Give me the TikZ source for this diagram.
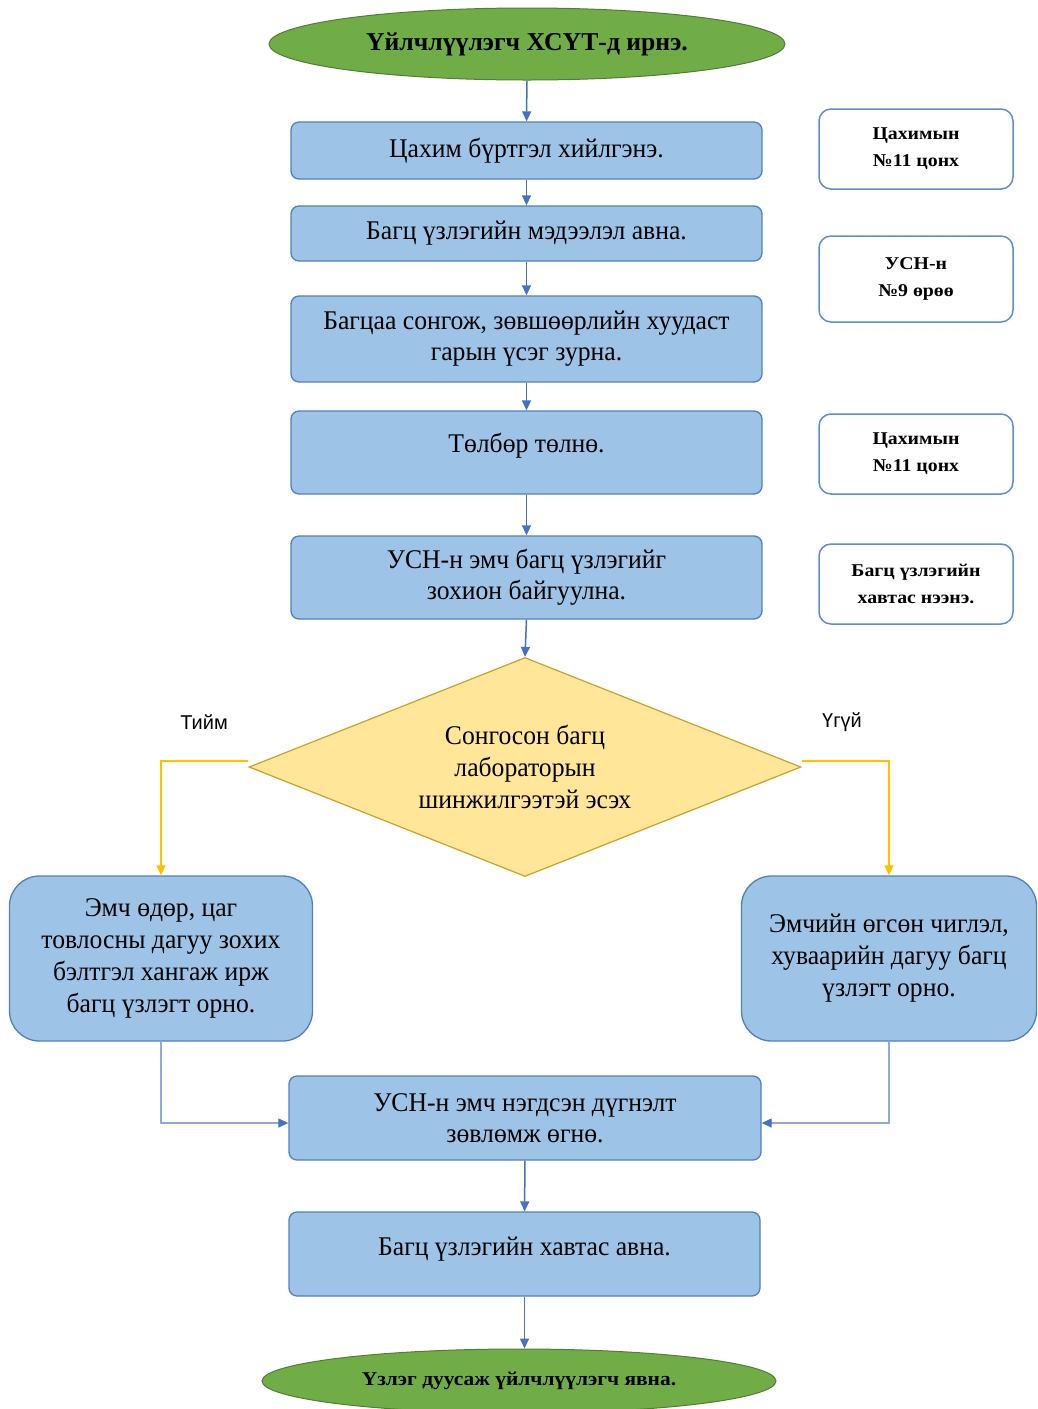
\documentclass[tikz,border=0pt]{standalone}
\usepackage{fontspec}
\setmainfont{Liberation Serif}
\newfontfamily\condfont{Liberation Serif}[FakeStretch=0.95]
\newfontfamily\widefont{Liberation Serif}[FakeStretch=1.1]
\newfontfamily\labfont{Liberation Sans}
\usetikzlibrary{shapes.geometric,arrows.meta}
\definecolor{boxfill}{HTML}{9DC3E6}
\definecolor{boxline}{HTML}{4F81BD}
\definecolor{sideline}{HTML}{5B8FD0}
\definecolor{arrowblue}{HTML}{4472C4}
\definecolor{greenfill}{HTML}{70AD47}
\definecolor{greenline}{HTML}{507E32}
\definecolor{diafill}{HTML}{FFE699}
\definecolor{dialine}{HTML}{C9A227}
\definecolor{yesno}{HTML}{FFC000}
\definecolor{thinblue}{HTML}{8FAADC}
\tikzset{
  mainbox/.style={draw=boxline, fill=boxfill, rounded corners=8pt, line width=1.3pt,
    minimum width=471pt, align=center, inner sep=0pt,
    font=\condfont\fontsize{27}{31}\selectfont},
  bigbox/.style={draw=boxline, fill=boxfill, rounded corners=30pt, line width=1.3pt,
    align=center, inner sep=0pt, font=\condfont\fontsize{27}{32}\selectfont},
  sidebox/.style={draw=sideline, fill=white, rounded corners=12pt, line width=1.5pt,
    minimum width=194pt, align=center, inner sep=0pt,
    font=\widefont\bfseries\fontsize{18}{27}\selectfont},
  term/.style={ellipse, draw=greenline, fill=greenfill, line width=1pt, inner sep=0pt},
  arr/.style={draw=arrowblue, line width=1.5pt, -{Triangle[length=10pt,width=9pt]}},
  yesarr/.style={draw=yesno, line width=1.5pt, -{Triangle[length=10pt,width=9pt]}},
  thinarr/.style={draw=thinblue, line width=1.2pt,
    -{Triangle[length=10pt,width=9pt,color=arrowblue,fill=arrowblue]}},
  lab/.style={font=\labfont\fontsize{20}{22}\selectfont}
}
\begin{document}
\begin{tikzpicture}[x=1pt,y=-1pt]
\useasboundingbox (0,0) rectangle (1038,1409);
\node[term, minimum width=516pt, minimum height=72pt,
  font=\bfseries\fontsize{25.7}{28}\selectfont] (start) at (527,44) {Үйлчлүүлэгч ХСҮТ-д ирнэ.};
\node[mainbox, minimum height=57pt] (b1) at (526.5,150.5) {Цахим бүртгэл хийлгэнэ.};
\node[mainbox, minimum height=55pt] (b2) at (526.5,233.5) {Багц үзлэгийн мэдээлэл авна.};
\node[mainbox, minimum height=86pt] (b3) at (526.5,339) {Багцаа сонгож, зөвшөөрлийн хуудаст\\гарын үсэг зурна.};
\node[mainbox, minimum height=83pt] (b4) at (526.5,452.5) {\raisebox{20pt}{Төлбөр төлнө.}};
\node[mainbox, minimum height=83pt] (b5) at (526.5,577.5) {УСН-н эмч багц үзлэгийг\\зохион байгуулна.};

\node[sidebox, minimum height=80pt] (s1) at (916,149) {Цахимын\\№11 цонх};
\node[sidebox, minimum height=86pt] (s2) at (916,279) {УСН-н\\№9 өрөө};
\node[sidebox, minimum height=80pt] (s3) at (916,454) {Цахимын\\№11 цонх};
\node[sidebox, minimum height=80pt] (s4) at (916,584) {Багц үзлэгийн\\хавтас нээнэ.};

\node[diamond, draw=dialine, fill=diafill, line width=1.2pt, aspect=2.52,
  minimum width=552pt, minimum height=219pt, inner sep=0pt, align=center,
  font=\condfont\fontsize{27}{32}\selectfont] (dec) at (525,767)
  {Сонгосон багц\\лабораторын\\шинжилгээтэй эсэх};
\node[lab] (yes) at (204,722) {Тийм};
\node[lab] (no) at (842,722) {Үгүй};

\node[bigbox, minimum width=303pt, minimum height=165pt] (bl) at (161,958.5)
  {Эмч өдөр, цаг\\товлосны дагуу зохих\\бэлтгэл хангаж ирж\\багц үзлэгт орно.};
\node[bigbox, minimum width=295pt, minimum height=165pt] (br) at (889,958.5)
  {Эмчийн өгсөн чиглэл,\\хуваарийн дагуу багц\\үзлэгт орно.};

\node[mainbox, minimum width=472pt, minimum height=84pt] (b6) at (525,1118) {УСН-н эмч нэгдсэн дүгнэлт\\зөвлөмж өгнө.};
\node[mainbox, minimum width=471pt, minimum height=84pt] (b7) at (524.5,1254) {\raisebox{16pt}{Багц үзлэгийн хавтас авна.}};
\node[term, minimum width=514pt, minimum height=64pt,
  font=\widefont\bfseries\fontsize{19.5}{22}\selectfont] (end) at (519,1381) {Үзлэг дуусаж үйлчлүүлэгч явна.};

\draw[arr] (start) -- (b1);
\draw[arr] (b1) -- (b2);
\draw[arr] (b2) -- (b3);
\draw[arr] (b3) -- (b4);
\draw[arr] (b4) -- (b5);
\draw[arr] (b5.south) -- (dec.north);
\draw[yesarr] ([yshift=6pt]dec.west) -| (bl.north);
\draw[yesarr] ([yshift=6pt]dec.east) -| (br.north);
\draw[thinarr] (bl.south) |- ([yshift=-5pt]b6.west);
\draw[thinarr] (br.south) |- ([yshift=-5pt]b6.east);
\draw[arr] (b6) -- (b7);
\draw[arr] (b7.south) -- (b7.south |- end.north);
\end{tikzpicture}
\end{document}
